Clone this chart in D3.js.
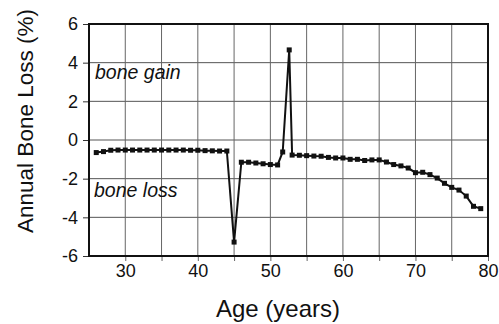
<!DOCTYPE html>
<html>
<head>
<meta charset="utf-8">
<script src="https://cdn.jsdelivr.net/npm/d3@7"></script>
<style>
  body { margin: 0; background: #fff; }
  svg { display: block; font-family: "Liberation Sans", Arial, sans-serif; }
</style>
</head>
<body>
<svg width="499" height="324"></svg>
<script>
// values
const ages = [26, 27, 28, 29, 30, 31, 32, 33, 34, 35, 36, 37, 38, 39, 40, 41, 42, 43, 44,
  45, 46, 47, 48, 49, 50, 51, 51.7, 52.6,
  53, 54, 55, 56, 57, 58, 59, 60, 61, 62, 63, 64, 65, 66, 67, 68, 69, 70,
  71, 72, 73, 74, 75, 76, 77, 78, 79];
const loss = [-0.65, -0.6, -0.53, -0.52, -0.52, -0.52, -0.52, -0.52, -0.52, -0.52, -0.52, -0.52, -0.52, -0.53, -0.53, -0.55, -0.56, -0.57, -0.57,
  -5.28, -1.15, -1.15, -1.19, -1.23, -1.27, -1.29, -0.62, 4.66,
  -0.78, -0.79, -0.81, -0.83, -0.84, -0.9, -0.93, -0.93, -1.0, -1.0, -1.06, -1.03, -1.03, -1.14, -1.27, -1.34, -1.45, -1.69,
  -1.67, -1.79, -1.97, -2.24, -2.45, -2.59, -2.9, -3.43, -3.55];
const yTicks = [-6, -4, -2, 0, 2, 4, 6];
const xTicks = [30, 35, 40, 45, 50, 55, 60, 65, 70, 75, 80];

const data = ages.map((a, i) => ({age: a, v: loss[i]}));

const svg = d3.select("svg");
const plotL = 89, plotR = 488, plotT = 24, plotB = 256;

const x = d3.scaleLinear().domain([25, 80]).range([plotL, plotR]);
const y = d3.scaleLinear().domain([-6, 6]).range([plotB, plotT]);

// grid
svg.append("g")
    .selectAll("line")
    .data(yTicks.slice(1, -1))
    .enter().append("line")
    .attr("x1", plotL).attr("x2", plotR)
    .attr("y1", d => y(d)).attr("y2", d => y(d))
    .attr("stroke", "#555").attr("stroke-width", 1);

svg.append("g")
    .selectAll("line")
    .data(xTicks.slice(0, -1))
    .enter().append("line")
    .attr("x1", d => x(d)).attr("x2", d => x(d))
    .attr("y1", plotT).attr("y2", plotB)
    .attr("stroke", "#666").attr("stroke-width", 1);

// axes
const yAxis = svg.append("g")
    .attr("transform", `translate(${plotL},0)`)
    .call(d3.axisLeft(y).tickValues(yTicks).tickSize(6).tickPadding(5)
        .tickFormat(d => String(d)));
yAxis.select(".domain").remove();
yAxis.selectAll("text").attr("font-size", 18).attr("fill", "#111").attr("font-family", "Liberation Sans, Arial, sans-serif");
yAxis.selectAll("line").attr("stroke", "#333");

const xAxis = svg.append("g")
    .attr("transform", `translate(0,${plotB})`)
    .call(d3.axisBottom(x).tickValues(xTicks).tickSize(5).tickPadding(3)
        .tickFormat(d => d % 10 === 0 ? d : ""));
xAxis.select(".domain").remove();
xAxis.selectAll("text").attr("font-size", 18).attr("fill", "#111").attr("font-family", "Liberation Sans, Arial, sans-serif");
xAxis.selectAll("line").attr("stroke", "#666");

// frame
svg.append("rect")
    .attr("x", plotL).attr("y", plotT)
    .attr("width", plotR - plotL).attr("height", plotB - plotT)
    .attr("fill", "none").attr("stroke", "#111").attr("stroke-width", 2);

// series
const line = d3.line().x(d => x(d.age)).y(d => y(d.v));
svg.append("path")
    .datum(data)
    .attr("d", line)
    .attr("fill", "none")
    .attr("stroke", "#111")
    .attr("stroke-width", 2);

svg.append("g")
    .selectAll("rect")
    .data(data)
    .enter().append("rect")
    .attr("x", d => x(d.age) - 2.5)
    .attr("y", d => y(d.v) - 2.5)
    .attr("width", 5).attr("height", 5)
    .attr("fill", "#111");

// annotations
svg.append("text")
    .attr("x", 95).attr("y", 79)
    .attr("font-size", 19.5).attr("font-style", "italic").attr("fill", "#111")
    .text("bone gain");
svg.append("text")
    .attr("x", 94).attr("y", 197)
    .attr("font-size", 19.5).attr("font-style", "italic").attr("fill", "#111")
    .text("bone loss");

// titles
svg.append("text")
    .attr("transform", "translate(33,121) rotate(-90)")
    .attr("text-anchor", "middle")
    .attr("font-size", 22.5).attr("fill", "#111")
    .text("Annual Bone Loss (%)");
svg.append("text")
    .attr("x", 278).attr("y", 317)
    .attr("text-anchor", "middle")
    .attr("font-size", 24).attr("fill", "#111")
    .text("Age (years)");
</script>
</body>
</html>
